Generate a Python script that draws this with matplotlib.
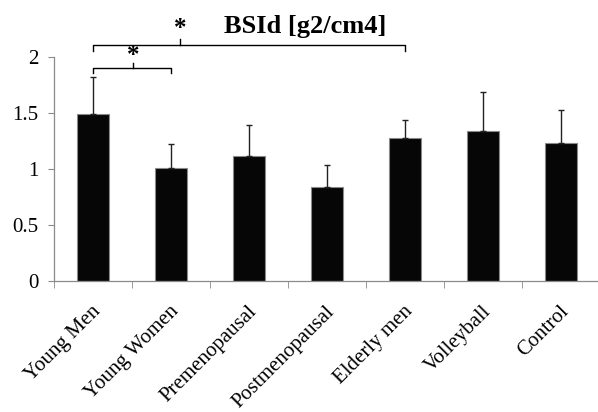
import matplotlib
matplotlib.use("Agg")
import matplotlib.pyplot as plt
import matplotlib.transforms as mtransforms
import numpy as np

categories = ["Young Men", "Young Women", "Premenopausal", "Postmenopausal",
              "Elderly men", "Volleyball", "Control"]
means = [1.49, 1.01, 1.12, 0.84, 1.28, 1.34, 1.23]
errors = [0.33, 0.21, 0.27, 0.20, 0.155, 0.345, 0.30]
yticks = [0, 0.5, 1, 1.5, 2]
yticklabels = ["0", "0.5", "1", "1.5", "2"]
title = "BSId [g2/cm4]"

plt.rcParams['font.family'] = ['Liberation Serif', 'DejaVu Serif']

fig = plt.figure(figsize=(5.98, 4.12), dpi=100)
ax = fig.add_axes([54/598, 131/412, 546/598, 224/412])

x = np.arange(len(categories))
ax.bar(x, means, width=0.4, color='#060606', edgecolor='#8a8a8a', linewidth=0.8, zorder=2)
ax.errorbar(x, means, yerr=[np.zeros(len(errors)), errors], fmt='none',
            ecolor='#222222', elinewidth=1.0, capsize=2.5, capthick=1.0, zorder=3)

ax.set_xlim(-0.5, len(categories) - 0.5)
ax.set_ylim(0, 2)
ax.set_yticks(yticks)
ax.set_yticklabels(yticklabels, fontsize=15)
ax.set_xticks(x)
ax.set_xticklabels(categories, fontsize=15, rotation=45, ha='right', va='center',
                   rotation_mode='anchor')
ax.tick_params(axis='x', length=0, pad=20)
offset = mtransforms.ScaledTranslation(5/100, 0, fig.dpi_scale_trans)
for lab in ax.get_xticklabels():
    lab.set_transform(lab.get_transform() + offset)
ax.set_xticks(np.arange(len(categories) + 1) - 0.5, minor=True)
ax.tick_params(axis='x', which='minor', length=5, color='#8a8a8a', direction='out')
ax.tick_params(axis='y', length=4, color='#8a8a8a', direction='out', pad=7)
for s in ['top', 'right']:
    ax.spines[s].set_visible(False)
for s in ['left', 'bottom']:
    ax.spines[s].set_color('#8a8a8a')
    ax.spines[s].set_linewidth(0.9)

# significance brackets
def bracket(x0, x1, y, drop, xm, rise, star_y):
    ax.plot([x0, x0, x1, x1], [y - drop, y, y, y - drop], color='black', lw=1.0, clip_on=False)
    ax.plot([xm, xm], [y, y + rise], color='black', lw=1.0, clip_on=False)
    ax.text(xm, star_y, "*", ha='center', va='center', fontsize=18, fontweight='bold', clip_on=False)

bracket(x[0], x[4], 2.105, 0.055, 1.12, 0.06, 2.255)
bracket(x[0], x[1], 1.90, 0.045, 0.51, 0.045, 2.01)

fig.text(305/598, 1 - 26/412, title, ha='center', va='center', fontsize=19, fontweight='bold')

fig.savefig("out.png", dpi=100)
